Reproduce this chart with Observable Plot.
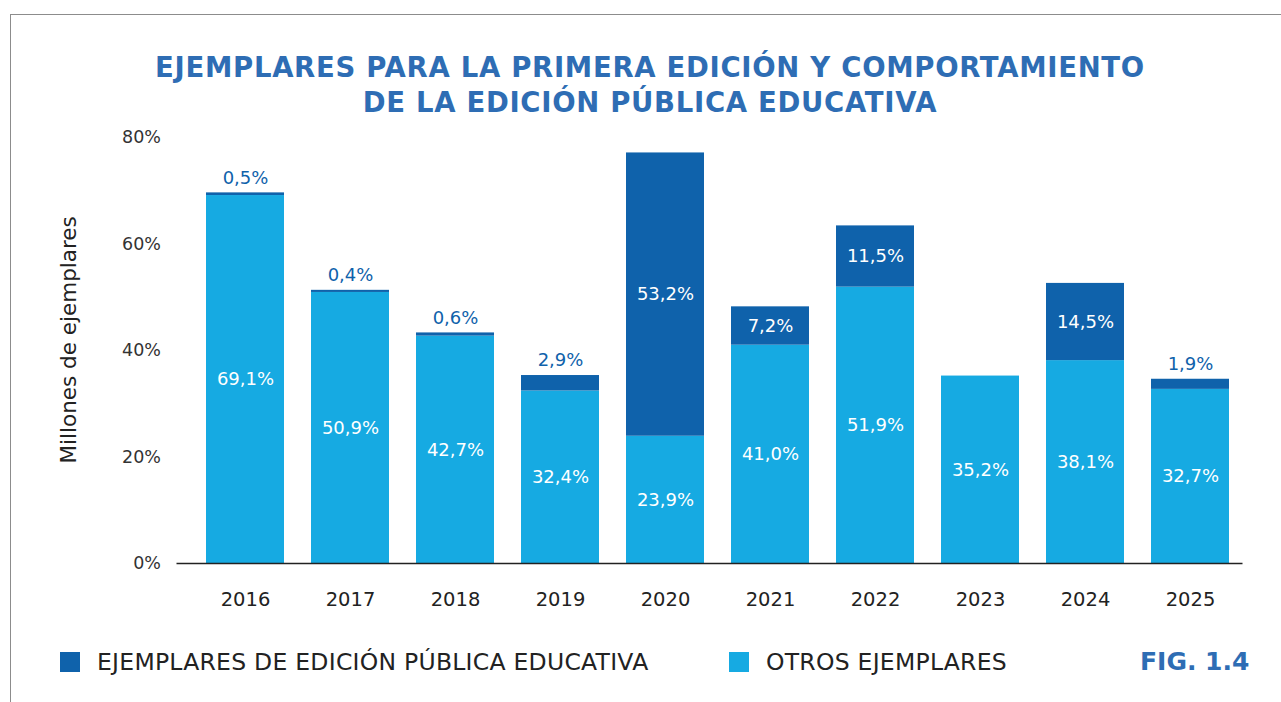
<!DOCTYPE html>
<html><head><meta charset="utf-8">
<script src="https://cdn.jsdelivr.net/npm/d3@7"></script>
<script src="https://cdn.jsdelivr.net/npm/@observablehq/plot@0.6"></script>
<style>
body{margin:0;background:#fff;font-family:"DejaVu Sans",sans-serif;}
#wrap{position:relative;width:1281px;height:702px;overflow:hidden;background:#fff;}
#frame{position:absolute;left:10px;top:14px;right:-5px;bottom:-5px;border-top:1.5px solid #8c8c8c;border-left:1.5px solid #8c8c8c;}
#title{position:absolute;left:0;top:50px;width:1300px;text-align:center;color:#2e6db4;font-weight:bold;font-size:27.5px;letter-spacing:0.7px;line-height:35px;}
#chart{position:absolute;left:0;top:120px;}
.sw{position:absolute;width:20px;height:20px;}
.lt{position:absolute;font-size:23.5px;color:#222;line-height:30px;white-space:nowrap;letter-spacing:0.25px;}
#fig{position:absolute;left:1140px;top:647px;font-size:25px;font-weight:bold;color:#2e6db4;line-height:30px;}
</style></head>
<body>
<div id="wrap">
  <div id="frame"></div>
  <div id="title">EJEMPLARES PARA LA PRIMERA EDICIÓN Y COMPORTAMIENTO<br>DE LA EDICIÓN PÚBLICA EDUCATIVA</div>
  <div id="chart"></div>
  <div class="sw" style="left:60px;top:652px;background:#0f62ab"></div>
  <div class="lt" style="left:97px;top:647px">EJEMPLARES DE EDICIÓN PÚBLICA EDUCATIVA</div>
  <div class="sw" style="left:729px;top:652px;background:#16aae2"></div>
  <div class="lt" style="left:766px;top:647px">OTROS EJEMPLARES</div>
  <div id="fig">FIG. 1.4</div>
</div>
<script>
const years = ["2016","2017","2018","2019","2020","2021","2022","2023","2024","2025"];
const otros = [69.1, 50.9, 42.7, 32.4, 23.9, 41.0, 51.9, 35.2, 38.1, 32.7];
const publica = [0.5, 0.4, 0.6, 2.9, 53.2, 7.2, 11.5, 0, 14.5, 1.9];
const yTicks = [0, 20, 40, 60, 80];
const series = ["otros", "publica"];
const colors = ["#16aae2", "#0f62ab"];

const rows = [];
years.forEach((y, i) => {
  rows.push({year: y, serie: "otros", value: otros[i]});
  rows.push({year: y, serie: "publica", value: publica[i]});
});
const fmt = v => v.toFixed(1).replace(".", ",") + "%";
const inside = d => (d.serie === "otros" && d.value > 0) || (d.serie === "publica" && d.value >= 5) ? fmt(d.value) : "";
const outside = d => (d.serie === "publica" && d.value > 0 && d.value < 5) ? fmt(d.value) : "";

const plot = Plot.plot({
  width: 1281,
  height: 500,
  marginTop: 17,
  marginBottom: 57,
  marginLeft: 191.5,
  marginRight: 38.5,
  style: {fontFamily: "DejaVu Sans, sans-serif", fontSize: "18px", background: "transparent", overflow: "visible"},
  x: {domain: years, paddingInner: 0.258, paddingOuter: 0.129, label: null},
  y: {domain: [0, 80], label: null},
  color: {domain: series, range: colors},
  marks: [
    Plot.barY(rows, {x: "year", y: "value", fill: "serie", z: "serie"}),
    Plot.text(rows, Plot.stackY({x: "year", y: "value", z: "serie", text: inside, fill: "white", fontSize: 18})),
    Plot.text(rows, Plot.stackY2({x: "year", y: "value", z: "serie", text: outside, fill: "#0f62ab", fontSize: 18, dy: -15})),
    Plot.ruleY([0], {stroke: "#222", strokeWidth: 1.5, insetLeft: -15}),
    Plot.axisX({tickSize: 0, tickPadding: 29, fontSize: 19.5, color: "#222", label: null}),
    Plot.axisY({ticks: yTicks, tickFormat: d => d + "%", tickSize: 0, tickPadding: 31, fontSize: 17.5, color: "#333", label: null}),
    Plot.text(["Millones de ejemplares"], {frameAnchor: "left", y: [42], text: d => d, rotate: -90, textAnchor: "middle", dx: -123, fontSize: 21.5, fill: "#222"})
  ]
});
document.getElementById("chart").appendChild(plot);
</script>
</body></html>
